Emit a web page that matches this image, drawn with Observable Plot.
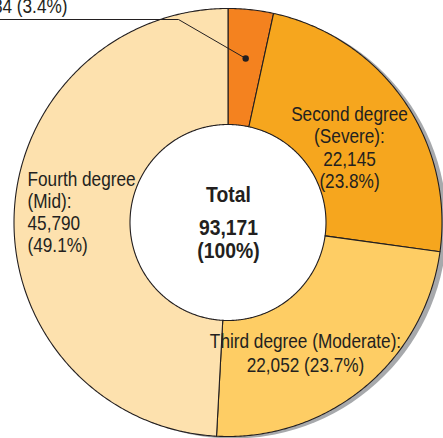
<!DOCTYPE html>
<html><head><meta charset="utf-8">
<script src="https://cdn.jsdelivr.net/npm/d3@7"></script>
<script src="https://cdn.jsdelivr.net/npm/@observablehq/plot@0.6"></script>
<style>html,body{margin:0;padding:0;background:#fff;overflow:hidden}</style>
</head><body><div id="chart"></div>
<script>
// ---- data ----
const categories = ["First degree", "Second degree", "Third degree", "Fourth degree"];
const severities = ["", "(Severe)", "(Moderate)", "(Mid)"];
const values = [3184, 22145, 22052, 45790];
const total = 93171;
const totalTitle = "Total";

// ---- styles / layout ----
const colors = ["#F4821F", "#F6A61E", "#FECD64", "#FDE1AE"];
const ink = "#231F20";
const W = 443, H = 438;
const cx = 227.5, cy = 222;     // donut centre in pixels
const R = 214, r0 = 98;         // outer / inner radius in pixels
// label layout (offsets from centre, y up), one per slice
const labelLayout = [
  {x: -160.5, y: 210, anchor: "end", lh: 1.07, form: "single"},
  {x: 121.5, y: 34.5, anchor: "middle", lh: 1.07, form: "stack"},
  {x: 77.5, y: -149.5, anchor: "middle", lh: 1.12, form: "two"},
  {x: -200.5, y: -29.7, anchor: "start", lh: 1.057, form: "stack"}
];
const leaderBend = {x: -49.5, y: 203};
const leaderEndX = -cx - 5;
const leaderRadius = 165;
const totalLines = [{y: 21}, {y: -12}, {y: -35}];

const fmt = d3.format(",");
const pct = v => "(" + (v / total * 100).toFixed(1) + "%)";

const arcs = d3.pie().sort(null)(values);
const pt = (r, a) => ({x: r * Math.sin(a), y: r * Math.cos(a)});

const slicePolys = arcs.map((a, i) => {
  const n = Math.max(4, Math.ceil((a.endAngle - a.startAngle) / (Math.PI / 360)));
  const pts = [];
  for (let k = 0; k <= n; k++) pts.push(pt(R, a.startAngle + (a.endAngle - a.startAngle) * k / n));
  for (let k = n; k >= 0; k--) pts.push(pt(r0, a.startAngle + (a.endAngle - a.startAngle) * k / n));
  pts.push(pts[0]);
  return pts;
});

const labels = arcs.map((a, i) => {
  const L = labelLayout[i];
  const v = values[i];
  let text;
  if (L.form === "single") text = `${fmt(v)} ${pct(v)}`;
  else if (L.form === "two") text = `${categories[i]} ${severities[i]}:\n${fmt(v)} ${pct(v)}`;
  else text = `${categories[i]}\n${severities[i]}:\n${fmt(v)}\n${pct(v)}`;
  return {...L, text};
});

const a0 = arcs[0];
const dotPos = pt(leaderRadius, (a0.startAngle + a0.endAngle) / 2);
const leader = [dotPos, leaderBend, {x: leaderEndX, y: leaderBend.y}];

const totalText = [totalTitle, fmt(total), "(100%)"].map((t, i) => ({x: 0.5, y: totalLines[i].y, text: t}));

const chart = Plot.plot({
  width: W, height: H, margin: 0,
  x: {domain: [-cx, W - cx], range: [0, W], axis: null},
  y: {domain: [cy - H, cy], range: [H, 0], axis: null},
  style: {fontFamily: "'Liberation Sans', Arial, sans-serif", background: "white", overflow: "hidden"},
  marks: [
    Plot.dot([{x: 0, y: 0}], {x: "x", y: "y", r: R, dx: 5, dy: 2, fill: "#A7A9AC", stroke: "none"}),
    Plot.dot([{x: 0, y: 0}], {x: "x", y: "y", r: r0, fill: "white", stroke: "none"}),
    ...slicePolys.map((pts, i) => Plot.line(pts, {x: "x", y: "y", fill: colors[i], stroke: ink, strokeWidth: 1.1, curve: "linear", strokeLinejoin: "round"})),
    Plot.line(leader, {x: "x", y: "y", stroke: ink, strokeWidth: 1, curve: "linear"}),
    Plot.dot([dotPos], {x: "x", y: "y", r: 3.2, fill: ink, stroke: "none"}),
    ...labels.map(L => Plot.text([L], {x: "x", y: "y", text: "text", textAnchor: L.anchor, lineAnchor: "bottom", lineHeight: L.lh, fontSize: 21, fill: ink})),
    Plot.text(totalText, {x: "x", y: "y", text: "text", textAnchor: "middle", lineAnchor: "bottom", fontSize: 22.5, fontWeight: "bold", fill: ink})
  ]
});
// condensed type: squeeze text horizontally about its anchor
chart.querySelectorAll('g[aria-label="text"]').forEach(g => {
  const s = g.getAttribute("font-weight") === "bold" ? 0.86 : 0.82;
  g.querySelectorAll("text").forEach(t => {
    t.setAttribute("transform", (t.getAttribute("transform") || "") + ` scale(${s},1)`);
  });
});
document.getElementById("chart").appendChild(chart);
</script>
</body></html>
